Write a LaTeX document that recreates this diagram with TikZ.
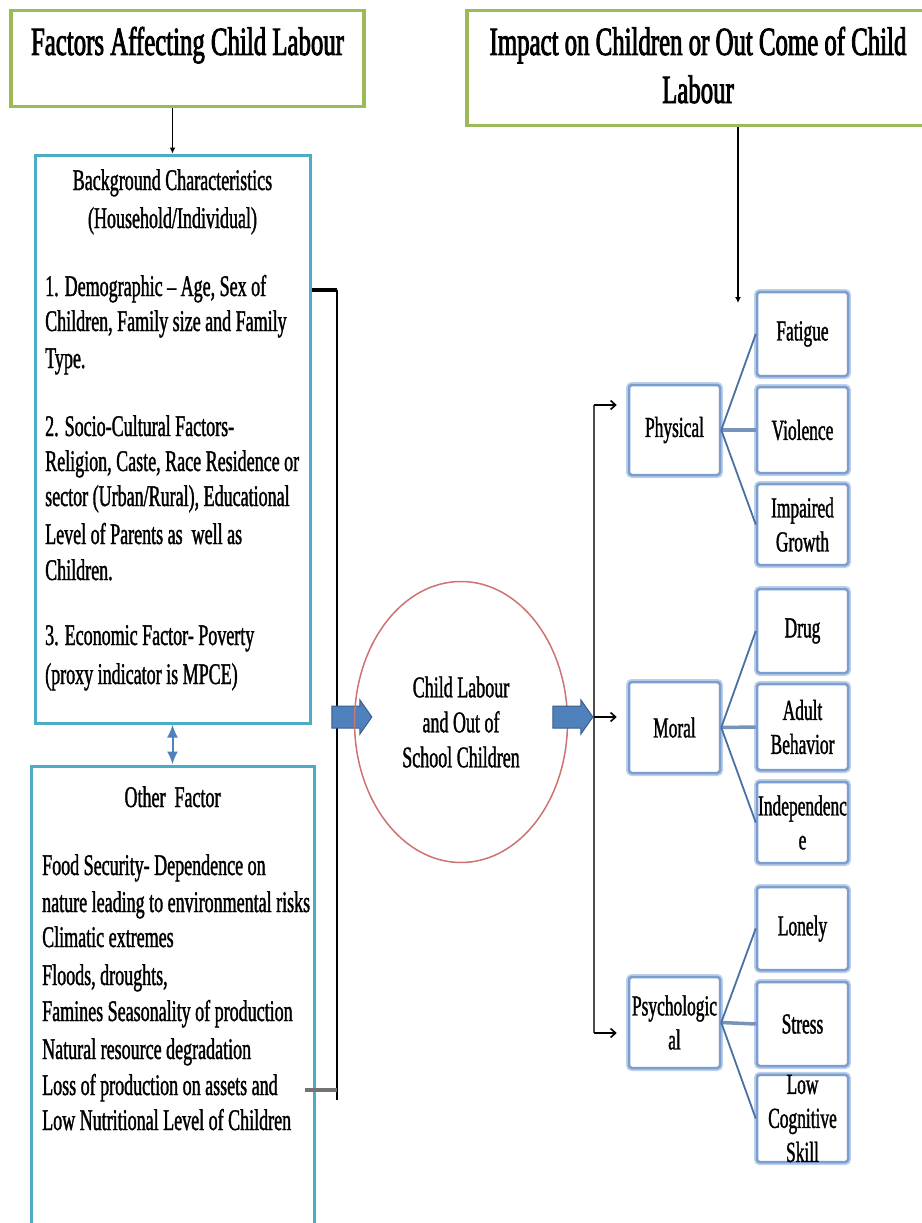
\documentclass[tikz,border=0pt]{standalone}
\usepackage{fontspec}
\newfontfamily\condfont{Liberation Serif}[FakeStretch=0.60,FakeBold=1.2,Ligatures=TeX]
\newfontfamily\condbold{Liberation Serif}[FakeStretch=0.62,FakeBold=2,Ligatures=TeX]
\usetikzlibrary{arrows.meta,shapes.arrows,shapes.geometric}

\definecolor{titlegreen}{HTML}{9BBB59}
\definecolor{boxaqua}{HTML}{4BACC6}
\definecolor{accblue}{HTML}{4F81BD}
\definecolor{accblueD}{HTML}{385D8A}
\definecolor{ovalred}{HTML}{C0504D}
\definecolor{halo}{HTML}{BDD0E8}
\definecolor{rim}{HTML}{7A9ECF}
\definecolor{linkblue}{HTML}{4A6FA3}

\tikzset{
  titlebox/.style={draw=titlegreen, line width=3.5pt, inner sep=0pt},
  titletext/.style={font=\condbold\fontsize{40}{48}\selectfont, inner sep=0pt},
  bigbox/.style={draw=boxaqua, line width=3pt, inner sep=0pt},
  bodytext/.style={font=\condfont\fontsize{30}{36}\selectfont, inner sep=0pt},
  smallbox/.style={draw=rim, line width=2.5pt, rounded corners=3pt, fill=white,
    preaction={draw=halo, line width=6pt, rounded corners=3pt},
    minimum width=91pt, inner sep=0pt, align=center,
    font=\condfont\fontsize{29}{34}\selectfont},
  link/.style={draw=linkblue, line width=1.8pt},
  midlink/.style={draw=linkblue!75, line width=3.5pt},
  blockarrow/.style={single arrow, draw=accblueD, fill=accblue, line width=1pt,
    inner xsep=0pt, inner ysep=10.5pt, minimum height=40pt,
    single arrow head extend=6pt, single arrow tip angle=110},
  feed/.style={black, line width=1.6pt, -{Straight Barb[length=5pt,width=9pt]}},
}

\begin{document}
\begin{tikzpicture}[x=1pt,y=-1pt]
\useasboundingbox (0,0) rectangle (921,1223);

% heading boxes
\node[titlebox, minimum width=353pt, minimum height=96pt] (ftitle) at (187.5,58.5) {};
\node[titletext, anchor=base] (ftitleT) at (187.5,55) {Factors Affecting Child Labour};
\node[titlebox, minimum width=463pt, minimum height=115pt] (rtitle) at (698.5,68) {};
\node[titletext, anchor=base] (rtitleA) at (698,55) {Impact on Children or Out Come of Child};
\node[titletext, anchor=base] (rtitleB) at (698,103) {Labour};

% left column: background characteristics
\node[bigbox, minimum width=275pt, minimum height=568pt] (bg) at (172.5,439) {};
\node[bodytext, anchor=base] (bgHeadA) at (172.5,190) {Background Characteristics};
\node[bodytext, anchor=base] (bgHeadB) at (172.5,228) {(Household/Individual)};
\foreach \y/\txt [count=\i] in {
    296/{1. Demographic – Age, Sex of},
    331/{Children, Family size and Family},
    368/{Type.},
    436/{2. Socio-Cultural Factors-},
    471/{Religion, Caste, Race Residence or},
    506/{sector (Urban/Rural), Educational},
    544/{Level of Parents as\ \ well as},
    580/{Children.},
    645/{3. Economic Factor- Poverty},
    684/{(proxy indicator is MPCE)}}
  \node[bodytext, anchor=base west] (bgLine\i) at (45,\y) {\txt};

% left column: other factors
\node[bigbox, minimum width=283pt, minimum height=480pt] (other) at (172.5,1006) {};
\node[bodytext, anchor=base] (otherHead) at (172.5,807) {Other\ \ Factor};
\foreach \y/\txt [count=\i] in {
    875/{Food Security- Dependence on},
    912/{nature leading to environmental risks},
    947/{Climatic extremes},
    985/{Floods, droughts,},
    1021/{Famines Seasonality of production},
    1059/{Natural resource degradation},
    1095/{Loss of production on assets and},
    1130/{Low Nutritional Level of Children}}
  \node[bodytext, anchor=base west] (otherLine\i) at (42,\y) {\txt};

% links on the left
\draw[black, line width=1.5pt, -{Latex[length=6pt,width=6pt]}] (ftitle.south -| bg.north) -- (bg.north);
\draw[accblue, line width=2pt, {Latex[length=13pt,width=11pt]}-{Latex[length=13pt,width=11pt]}] (bg.south) -- (other.north);

\coordinate (brTop) at (337,290);
\coordinate (brJoin) at (337,1090);
\coordinate (brBot) at (337,1100);
\draw[black, line width=3.5pt] (bg.east |- brTop) -- (brTop);
\draw[black, line width=2pt] (brTop) -- (brBot);
\draw[black!55, line width=4pt] ([xshift=-11pt]other.east |- brJoin) -- (brJoin);

% central outcome
\node[blockarrow] (inArrow) at (348,717) {};
\node[ellipse, draw=ovalred!80, line width=1.5pt, minimum width=213pt, minimum height=281pt,
      inner sep=0pt, align=center, font=\condfont\fontsize{30}{35}\selectfont] (core) at (461,722)
  {Child Labour\\and Out of\\School Children};
\node[blockarrow] (outArrow) at (569,717) {};

% right column: impact groups
\node[smallbox, minimum height=90pt] (phys) at (674.5,430) {Physical};
\node[smallbox, minimum height=91pt] (moral) at (674.5,727.5) {Moral};
\node[smallbox, minimum height=91pt] (psych) at (674.5,1022.5) {Psychologic\\al};

\node[smallbox, minimum height=84pt] (fatigue) at (802.5,334) {Fatigue};
\node[smallbox, minimum height=86pt] (violence) at (802.5,430) {Violence};
\node[smallbox, minimum height=81pt] (impaired) at (802.5,524.5) {Impaired\\Growth};

\node[smallbox, minimum height=84pt] (drug) at (802.5,631) {Drug};
\node[smallbox, minimum height=86pt] (adult) at (802.5,727) {Adult\\Behavior};
\node[smallbox, minimum height=81pt] (indep) at (802.5,822.5) {Independenc\\e};

\node[smallbox, minimum height=83pt] (lonely) at (802.5,928.5) {Lonely};
\node[smallbox, minimum height=84pt] (stress) at (802.5,1024) {Stress};
\node[smallbox, minimum height=83pt] (lowcog) at (802.5,1118.5) {Low\\Cognitive\\Skill};

\foreach \p/\a/\b/\c in {phys/fatigue/violence/impaired, moral/drug/adult/indep, psych/lonely/stress/lowcog}{
  \draw[midlink] (\p.east) -- (\b.west);
  \draw[link] (\p.east) -- (\a.west);
  \draw[link] (\p.east) -- (\c.west);
}

% distribution line into the groups
\coordinate (distTop) at (594,405);
\coordinate (distMid) at (594,717);
\coordinate (distBot) at (594,1033);
\draw[black!70, line width=2pt] (distTop) -- (distBot);
\draw[feed, shorten >=11pt] (distTop) -- (phys.west |- distTop);
\draw[feed, shorten >=11pt] (distMid) -- (moral.west |- distMid);
\draw[feed, shorten >=11pt] (distBot) -- (psych.west |- distBot);

\coordinate (impactTip) at (738,303);
\draw[black, line width=1.5pt, -{Latex[length=6pt,width=6pt]}] (rtitle.south -| impactTip) -- (impactTip);
\end{tikzpicture}
\end{document}
